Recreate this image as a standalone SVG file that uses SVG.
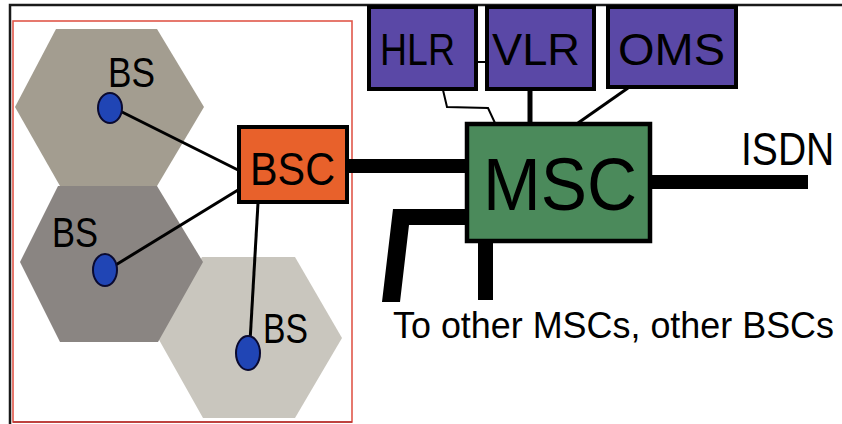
<svg xmlns="http://www.w3.org/2000/svg" width="842" height="424" viewBox="0 0 842 424">
<style>
  .lbl { font-family: "Liberation Sans", Arial, sans-serif; fill: #000; }
  .hexA { fill: #a39d90; }
  .hexB { fill: #8a8582; }
  .hexC { fill: #c9c6be; }
  .dot { fill: #2045b5; stroke: #0a0a30; stroke-width: 2; }
  .thin { stroke: #000; fill: none; stroke-width: 3; }
  .pbox { fill: #5a48a6; stroke: #000; stroke-width: 4; }
</style>
<rect x="0" y="0" width="842" height="424" fill="#ffffff"/>
<!-- frame -->
<path d="M10 424 V5 H842" fill="none" stroke="#1a1a1a" stroke-width="2.5"/>
<rect x="13" y="21" width="339" height="401" fill="none" stroke="#e0574a" stroke-width="1.6"/>
<line x1="13" y1="422" x2="352" y2="422" stroke="#b03030" stroke-width="1.5"/>

<!-- cells -->
<g id="cell3"><polygon class="hexC" points="202,257 295,257 342,338 295,418 203,418 158,338"/></g>
<g id="cell1"><polygon class="hexA" points="56,29 157,29 204,107 157,186 60,186 15,107"/></g>
<g id="cell2"><polygon class="hexB" points="58,186 157,186 203,262 158,342 60,342 20,262"/></g>

<!-- connectors -->
<g id="connectors">
  <line class="thin" x1="118" y1="110" x2="238" y2="170"/>
  <line class="thin" x1="114" y1="266" x2="238" y2="190"/>
  <line class="thin" x1="258" y1="203" x2="250" y2="342"/>
  <rect x="348" y="159" width="120" height="14" fill="#000"/>
  <rect x="650" y="175" width="158" height="14" fill="#000"/>
  <polyline points="443,90 447,107 488,108 495,123" fill="none" stroke="#000" stroke-width="2"/>
  <line x1="477" y1="62" x2="486" y2="62" stroke="#000" stroke-width="2"/>
  <line x1="530" y1="90" x2="530" y2="123" stroke="#000" stroke-width="5"/>
  <line x1="628" y1="88" x2="578" y2="123" stroke="#000" stroke-width="3"/>
  <polygon points="466,209 393,209 382,302 400,302 409,225 466,225" fill="#000"/>
  <rect x="478" y="241" width="15" height="59" fill="#000"/>
</g>

<!-- base stations -->
<g id="bs1">
  <ellipse class="dot" cx="110" cy="108" rx="12" ry="15"/>
  <text class="lbl" x="108" y="87" font-size="42" textLength="47" lengthAdjust="spacingAndGlyphs">BS</text>
</g>
<g id="bs2">
  <ellipse class="dot" cx="105" cy="270" rx="12" ry="16"/>
  <text class="lbl" x="52" y="247" font-size="42" textLength="46" lengthAdjust="spacingAndGlyphs">BS</text>
</g>
<g id="bs3">
  <ellipse class="dot" cx="248" cy="353" rx="12" ry="17"/>
  <text class="lbl" x="263" y="343" font-size="42" textLength="45" lengthAdjust="spacingAndGlyphs">BS</text>
</g>

<!-- BSC -->
<g id="bsc">
  <rect x="239" y="127" width="108" height="75" fill="#e8612b" stroke="#000" stroke-width="4"/>
  <text class="lbl" x="250" y="185" font-size="46" textLength="85" lengthAdjust="spacingAndGlyphs">BSC</text>
</g>

<!-- MSC -->
<g id="msc">
  <rect x="467" y="124" width="183" height="117" fill="#4b8a5b" stroke="#000" stroke-width="4.5"/>
  <text class="lbl" x="483" y="210" font-size="74" textLength="154" lengthAdjust="spacingAndGlyphs">MSC</text>
</g>

<!-- HLR / VLR / OMS -->
<g id="hlr">
  <rect class="pbox" x="369" y="7" width="107" height="82"/>
  <text class="lbl" x="380" y="65" font-size="44" textLength="75" lengthAdjust="spacingAndGlyphs">HLR</text>
</g>
<g id="vlr">
  <rect class="pbox" x="487" y="7" width="107" height="82"/>
  <text class="lbl" x="492" y="65" font-size="44" textLength="88" lengthAdjust="spacingAndGlyphs">VLR</text>
</g>
<g id="oms">
  <rect class="pbox" x="608" y="7" width="128" height="80"/>
  <text class="lbl" x="618" y="65" font-size="44" textLength="107" lengthAdjust="spacingAndGlyphs">OMS</text>
</g>

<!-- labels -->
<g id="isdn">
  <text class="lbl" transform="translate(741,165) scale(0.93,1.12)" font-size="42">ISDN</text>
</g>
<g id="other">
  <text class="lbl" x="393" y="338" font-size="36" textLength="441" lengthAdjust="spacingAndGlyphs">To other MSCs, other BSCs</text>
</g>
</svg>
